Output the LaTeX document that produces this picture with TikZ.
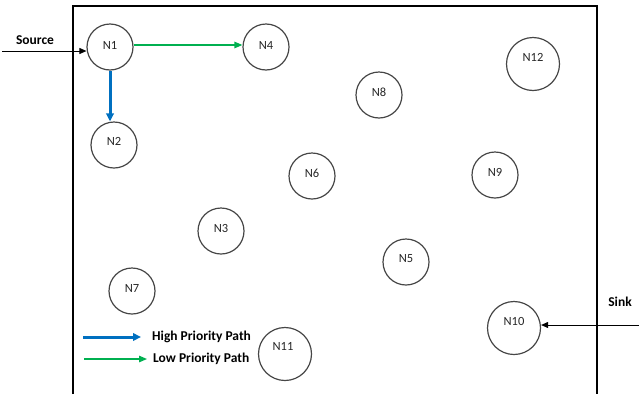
\documentclass[tikz,border=0pt]{standalone}
\usepackage{fontspec}
\setmainfont{Carlito}
\usetikzlibrary{arrows.meta}
\definecolor{hiblue}{RGB}{0,112,192}
\definecolor{logreen}{RGB}{0,176,80}
\definecolor{ring}{RGB}{70,70,70}
\begin{document}
\begin{tikzpicture}[x=1pt,y=-1pt,
  nd/.style={circle,draw=ring,line width=1.2pt,minimum size=#1,inner sep=0pt},
  nd/.default=46pt,
  lbl/.style={font=\fontsize{12.5}{14}\selectfont,text=black!85},
  tag/.style={font=\fontsize{13.5}{16}\selectfont\bfseries},
  io/.style={-{Triangle[length=7pt,width=6pt]},line width=0.9pt,black},
  hi/.style={-{Triangle[length=8pt,width=7.5pt]},line width=3pt,hiblue},
  lo/.style={-{Triangle[length=8pt,width=6.5pt]},line width=1.3pt,logreen}]
\useasboundingbox (0,0) rectangle (639,394);
% field boundary
\draw[line width=1.1pt] (73,394) -- (73,6) -- (597,6) -- (597,394);
% sensor nodes
\node[nd] (n1) at (110,47) {};
\node[nd] (n2) at (114,145) {};
\node[nd] (n3) at (221,231) {};
\node[nd] (n4) at (266,47) {};
\node[nd] (n5) at (406,262) {};
\node[nd] (n6) at (312,176) {};
\node[nd] (n7) at (132,291) {};
\node[nd] (n8) at (379,95) {};
\node[nd] (n9) at (495,175) {};
\node[nd=53pt] (n10) at (514,328) {};
\node[nd=53pt] (n11) at (285,354) {};
\node[nd=53pt] (n12) at (533,64) {};
% node names
\node[lbl] (t1) at ([yshift=2pt]n1) {N1};
\node[lbl] (t2) at ([yshift=4pt]n2) {N2};
\node[lbl] (t3) at ([yshift=3pt]n3) {N3};
\node[lbl] (t4) at ([yshift=2pt]n4) {N4};
\node[lbl] (t5) at ([yshift=3pt]n5) {N5};
\node[lbl] (t6) at ([yshift=3pt]n6) {N6};
\node[lbl] (t7) at ([yshift=3pt]n7) {N7};
\node[lbl] (t8) at ([yshift=3pt]n8) {N8};
\node[lbl] (t9) at ([yshift=3pt]n9) {N9};
\node[lbl] (t10) at ([yshift=7pt]n10) {N10};
\node[lbl] (t11) at ([xshift=-2pt,yshift=8pt]n11) {N11};
\node[lbl] (t12) at ([yshift=7pt]n12) {N12};
% source and sink
\node[tag] (src) at (35,40) {Source};
\node[tag] (snk) at (620,302) {Sink};
\coordinate (srcin) at (2,51);
\coordinate (snkin) at (639,325);
\draw[io] (srcin) -- (srcin -| n1.west);
\draw[io] (snkin) -- (snkin -| n10.east);
% routing paths
\draw[hi] (n1.south) -- (n1.south |- n2.north);
\draw[lo] ([yshift=2pt]n1.east) -- ([yshift=2pt]n4.west);
% legend
\coordinate (lg1) at (83,337);
\coordinate (lg2) at (84,359);
\draw[hi] (lg1) -- ++(58,0);
\draw[lo] (lg2) -- ++(63,0);
\node[tag,anchor=west,inner sep=0pt] (lh) at (152,337) {High Priority Path};
\node[tag,anchor=west,inner sep=0pt] (ll) at (153,359) {Low Priority Path};
\end{tikzpicture}
\end{document}
